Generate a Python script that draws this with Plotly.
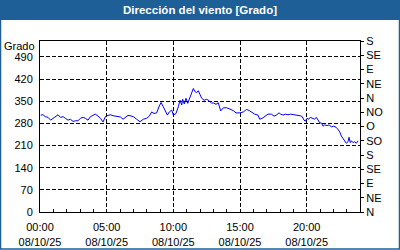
import plotly.graph_objects as go

# ---- data ----
hours = [0.05, 0.23, 0.40, 0.60, 0.80, 0.98, 1.15, 1.35, 1.53, 1.73, 1.90, 2.10, 2.28, 2.48,
         2.65, 2.85, 3.03, 3.23, 3.40, 3.60, 3.78, 3.98, 4.15, 4.35, 4.53, 4.73, 4.90, 5.10,
         5.28, 5.48, 5.65, 5.85, 6.03, 6.23, 6.40, 6.60, 6.75, 7.00, 7.25, 7.50, 7.75, 8.00,
         8.20, 8.38, 8.55, 8.75, 8.95, 9.08, 9.25, 9.45, 9.55, 9.70, 9.88, 10.00, 10.20, 10.37,
         10.50, 10.63, 10.70, 10.82, 10.95, 11.08, 11.20, 11.33, 11.50, 11.63, 11.75, 11.87,
         12.00, 12.13, 12.30, 12.50, 12.70, 12.88, 12.98, 13.20, 13.37, 13.55, 13.75, 14.00,
         14.25, 14.50, 14.70, 15.00, 15.25, 15.50, 15.70, 15.85, 16.10, 16.35, 16.48, 16.67,
         16.85, 17.10, 17.35, 17.55, 17.70, 17.93, 18.05, 18.23, 18.40, 18.60, 18.80, 18.98,
         19.15, 19.35, 19.52, 19.67, 19.80, 19.90, 20.03, 20.15, 20.27, 20.42, 20.60, 20.72,
         20.85, 20.98, 21.13, 21.23, 21.35, 21.53, 21.68, 21.85, 22.03, 22.22, 22.35, 22.48,
         22.60, 22.73, 22.85, 22.97, 23.10, 23.18, 23.27, 23.35, 23.48, 23.60, 23.72, 23.85]
direction = [306, 307, 301, 299, 290, 296, 301, 307, 299, 301, 296, 290, 293, 286,
             288, 288, 296, 299, 296, 290, 301, 304, 309, 303, 296, 284, 301, 305,
             307, 304, 303, 300, 300, 293, 300, 305, 304, 301, 293, 285, 293, 296,
             303, 316, 311, 313, 335, 346, 332, 316, 306, 316, 322, 306, 311, 332,
             353, 338, 356, 341, 359, 343, 356, 369, 390, 380, 377, 383,
             369, 359, 353, 356, 351, 343, 345, 340, 345, 319, 329, 329,
             325, 320, 313, 313, 316, 324, 320, 316, 309, 306, 293, 296,
             301, 309, 309, 303, 305, 313, 309, 306, 309, 307, 309, 307,
             307, 305, 304, 301, 290, 287, 296, 293, 299, 296, 293, 299,
             290, 282, 280, 271, 275, 273, 275, 269, 271, 267, 261, 253,
             240, 233, 225, 217, 222, 236, 219, 225, 219, 222, 217, 225]

x_tickvals = [0, 5, 10, 15, 20]
x_ticktext = ["00:00<br>08/10/25", "05:00<br>08/10/25", "10:00<br>08/10/25",
              "15:00<br>08/10/25", "20:00<br>08/10/25"]
y_tickvals = [0, 70, 140, 210, 280, 350, 420, 490]
y2_tickvals = [0, 45, 90, 135, 180, 225, 270, 315, 360, 405, 450, 495, 540]
y2_ticktext = ["N", "NE", "E", "SE", "S", "SO", "O", "NO", "N", "NE", "E", "SE", "S"]
title_text = "Dirección del viento [Grado]"
unit_text = "Grado"

BLUE = "#1e5f97"
FONT = "Liberation Sans"

W, H = 400, 250
L, R, T, B = 40, 40, 41, 38
pw, ph = W - L - R, H - T - B


def px_x(px):
    return (px - L) / pw


def px_y(py):
    return (H - B - py) / ph


fig = go.Figure()
fig.add_trace(go.Scatter(x=hours, y=direction, mode="lines",
                         line=dict(color="#0000ff", width=1), hoverinfo="skip"))
fig.add_trace(go.Scatter(x=[None], y=[None], yaxis="y2", mode="lines", hoverinfo="skip"))

grid = dict(showgrid=True, gridcolor="black", gridwidth=1, griddash="4px,2px")

fig.update_layout(
    width=W, height=H,
    margin=dict(l=L, r=R, t=T, b=B, autoexpand=False),
    paper_bgcolor="white", plot_bgcolor="white",
    showlegend=False,
    font=dict(family=FONT, size=11, color="black"),
    xaxis=dict(range=[0, 24], tickvals=x_tickvals, ticktext=x_ticktext,
               showline=True, linecolor="black", linewidth=1, mirror=True,
               zeroline=False, ticks="inside", ticklen=3, tickcolor="black",
               ticklabelstandoff=5,
               minor=dict(tickvals=list(range(1, 24)), ticks="inside", ticklen=3,
                          tickcolor="black", showgrid=False),
               tickfont=dict(family=FONT, size=11, color="black"), **grid),
    yaxis=dict(range=[0, 540], tickvals=y_tickvals,
               showline=True, linecolor="black", linewidth=1, mirror=True,
               zeroline=False, ticks="", ticklabelstandoff=4,
               tickfont=dict(family=FONT, size=11, color="black"), **grid),
    yaxis2=dict(range=[0, 540], overlaying="y", side="right", tickvals=y2_tickvals,
                ticktext=y2_ticktext, showgrid=False, zeroline=False,
                showline=True, linecolor="black", linewidth=1,
                ticks="outside", ticklen=3, tickcolor="black", ticklabelstandoff=0,
                tickfont=dict(family=FONT, size=11, color="black")),
    shapes=[
        dict(type="rect", xref="paper", yref="paper",
             x0=px_x(0), x1=px_x(W), y0=px_y(20), y1=px_y(0),
             fillcolor=BLUE, line=dict(width=0), layer="below"),
        dict(type="rect", xref="paper", yref="paper",
             x0=px_x(0.5), x1=px_x(W - 0.5), y0=px_y(H - 1), y1=px_y(0.5),
             fillcolor="rgba(0,0,0,0)", line=dict(color=BLUE, width=1.5), layer="above"),
    ],
    annotations=[
        dict(text="<b>" + title_text + "</b>", xref="paper", yref="paper",
             x=0.5, y=px_y(10), xanchor="center", yanchor="middle", showarrow=False,
             font=dict(family=FONT, size=11.5, color="white")),
        dict(text=unit_text, xref="paper", yref="paper",
             x=px_x(37), y=px_y(46), xanchor="right", yanchor="middle", showarrow=False,
             font=dict(family=FONT, size=11, color="black")),
    ],
)

fig.write_html("out.html")
